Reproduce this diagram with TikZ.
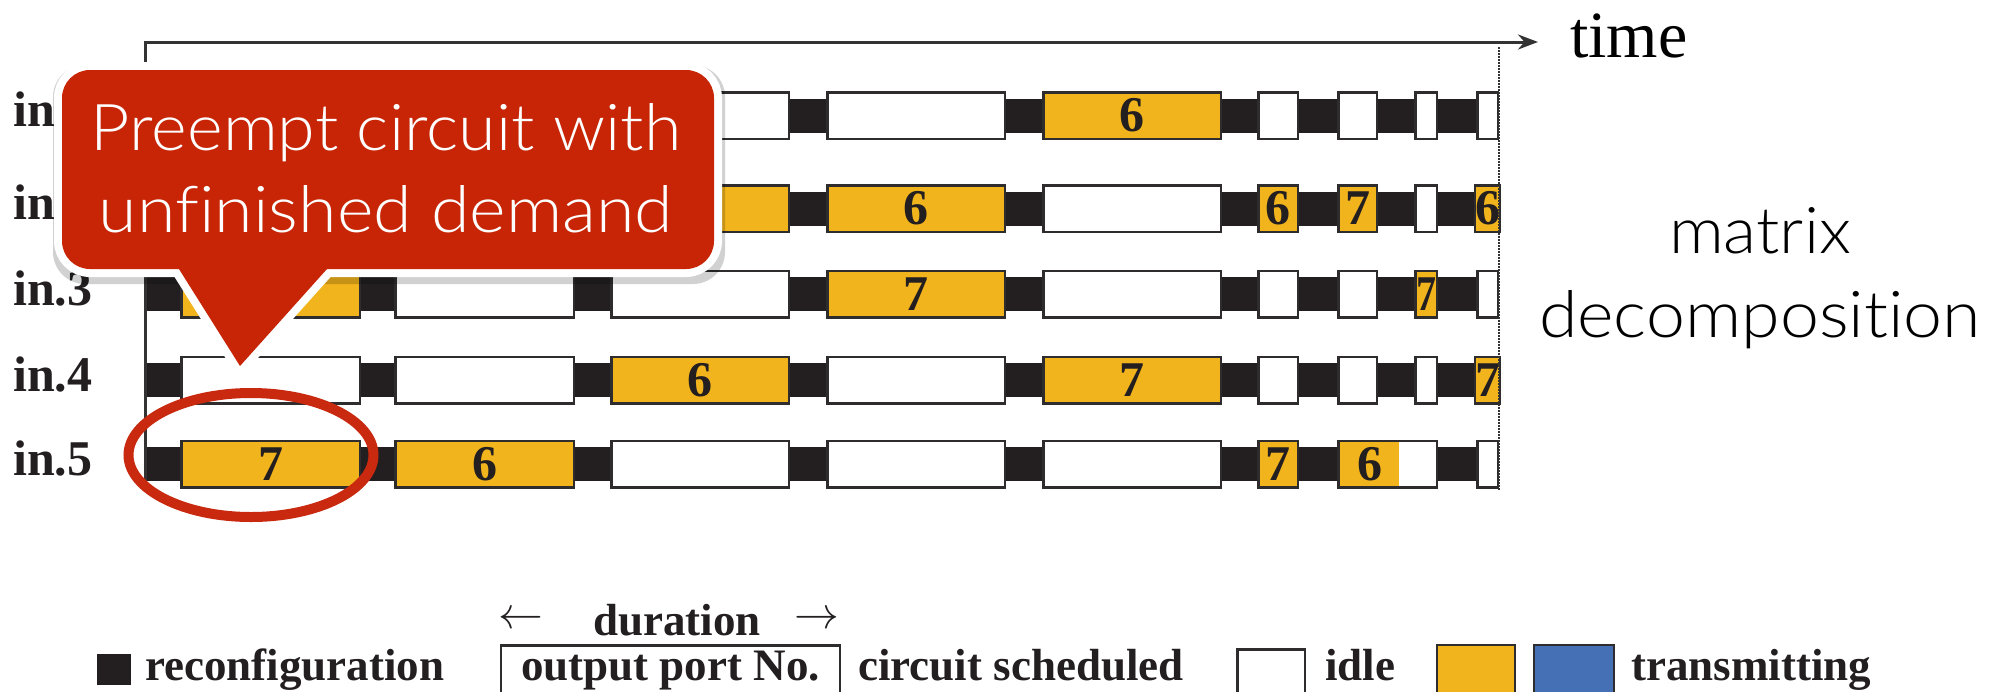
\documentclass[tikz,border=0pt]{standalone}
\usepackage{fontspec}
\setmainfont{Liberation Serif}
\newfontfamily\lightsf{Lato Light}[Ligatures=NoCommon]
\usetikzlibrary{arrows.meta,shapes.geometric}
\definecolor{boxorange}{HTML}{F2B41C}
\definecolor{barblack}{HTML}{231F20}
\definecolor{boxedge}{HTML}{2E2C2D}
\definecolor{callred}{HTML}{C72506}
\definecolor{ringred}{HTML}{C8290F}
\definecolor{keyblue}{HTML}{4670B5}
\definecolor{axisgrey}{HTML}{333333}
\newcommand\digitfont{\fontsize{50}{50}\selectfont\bfseries}
\newcommand\legfont{\fontsize{45}{45}\selectfont\bfseries}
\newcommand\slotnode[5]{\node[#1, minimum width=#3pt] (#2) at (#4,#5)}
\newcommand\fitwh[3]{\resizebox{#1pt}{#2pt}{#3}}
\begin{document}
\begin{tikzpicture}[x=1pt,y=-1pt,
  slot/.style={draw=boxedge, line width=2.5pt, minimum height=46.5pt, inner sep=0pt, font=\digitfont, text=barblack},
  idle/.style={slot, fill=white},
  busy/.style={slot, fill=boxorange},
  rowlabel/.style={anchor=base west, inner sep=0pt, font=\digitfont, text=barblack},
  legtext/.style={anchor=base west, inner sep=0pt, font=\legfont, text=barblack},
  lighttext/.style={anchor=base, inner sep=0pt, font={\lightsf\fontsize{66}{66}\selectfont}},
]
\useasboundingbox[fill=white] (0,0) rectangle (1999,691);
% bars
\foreach \y in {115.5,208.5,294,380,464} \fill[barblack] (145,\y-17) rectangle (1499,\y+17);
% row 1
\slotnode{idle}{r1b3}{177.5}{700}{115.5}{};
\slotnode{idle}{r1b4}{177.5}{916}{115.5}{};
\slotnode{busy}{r1b5}{177.5}{1132}{115.5}{6};
\slotnode{idle}{r1s1}{39.5}{1278}{115.5}{};
\slotnode{idle}{r1s2}{38.5}{1357.5}{115.5}{};
\slotnode{idle}{r1s3}{21.5}{1426}{115.5}{};
\slotnode{idle}{r1s4}{20.5}{1487.5}{115.5}{};
% row 2
\slotnode{busy}{r2b3}{177.5}{700}{208.5}{};
\slotnode{busy}{r2b4}{177.5}{916}{208.5}{6};
\slotnode{idle}{r2b5}{177.5}{1132}{208.5}{};
\slotnode{busy}{r2s1}{39.5}{1278}{208.5}{6};
\slotnode{busy}{r2s2}{38.5}{1357.5}{208.5}{7};
\slotnode{idle}{r2s3}{21.5}{1426}{208.5}{};
\slotnode{busy}{r2s4}{20.5}{1487.5}{208.5}{6};
% row 3
\slotnode{busy}{r3b1}{178.5}{270.5}{294}{};
\slotnode{idle}{r3b2}{178.5}{484.5}{294}{};
\slotnode{idle}{r3b3}{177.5}{700}{294}{};
\slotnode{busy}{r3b4}{177.5}{916}{294}{7};
\slotnode{idle}{r3b5}{177.5}{1132}{294}{};
\slotnode{idle}{r3s1}{39.5}{1278}{294}{};
\slotnode{idle}{r3s2}{38.5}{1357.5}{294}{};
\slotnode{busy}{r3s3}{21.5}{1426}{294}{\scalebox{0.8}[1]{7}};
\slotnode{idle}{r3s4}{20.5}{1487.5}{294}{};
% row 4
\slotnode{idle}{r4b1}{178.5}{270.5}{380}{};
\slotnode{idle}{r4b2}{178.5}{484.5}{380}{};
\slotnode{busy}{r4b3}{177.5}{700}{380}{6};
\slotnode{idle}{r4b4}{177.5}{916}{380}{};
\slotnode{busy}{r4b5}{177.5}{1132}{380}{7};
\slotnode{idle}{r4s1}{39.5}{1278}{380}{};
\slotnode{idle}{r4s2}{38.5}{1357.5}{380}{};
\slotnode{idle}{r4s3}{21.5}{1426}{380}{};
\slotnode{busy}{r4s4}{20.5}{1487.5}{380}{7};
% row 5
\slotnode{busy}{r5b1}{178.5}{270.5}{464}{7};
\slotnode{busy}{r5b2}{178.5}{484.5}{464}{6};
\slotnode{idle}{r5b3}{177.5}{700}{464}{};
\slotnode{idle}{r5b4}{177.5}{916}{464}{};
\slotnode{idle}{r5b5}{177.5}{1132}{464}{};
\slotnode{busy}{r5s1}{39.5}{1278}{464}{7};
\node[idle, minimum width=98.5pt,
  path picture={\fill[boxorange] (path picture bounding box.south west) rectangle ([xshift=-38pt]path picture bounding box.north east);},
  label={[font=\digitfont, text=barblack, inner sep=0pt, xshift=-17.5pt]center:6}] (r5s23) at (1387.5,464) {};
\slotnode{idle}{r5s4}{20.5}{1487.5}{464}{};
% axes
\coordinate (axbot) at (145,481);
\coordinate (axo) at (145,42);
\coordinate (axend) at (1538,42);
\draw[axisgrey, line width=3pt, -{Stealth[length=20pt,width=15pt]}] (axbot) -- (axo) -- (axend);
\coordinate (dtop) at (1499,47);
\coordinate (dbot) at (1499,490);
\draw[axisgrey, line width=1.5pt, dash pattern=on 1.5pt off 1.5pt] (dtop) -- (dbot);
% row labels
\node[rowlabel] (lab1) at (13,126.5) {in.1};
\node[rowlabel] (lab2) at (13,219.5) {in.2};
\node[rowlabel] (lab3) at (13,305) {in.3};
\node[rowlabel] (lab4) at (13,391) {in.4};
\node[rowlabel] (lab5) at (13,475) {in.5};
% time & matrix decomposition
\node[anchor=base west, inner sep=0pt, font=\fontsize{66}{66}\selectfont] (time) at (1570,57) {time};
\node[lighttext] (mat1) at (1760,253) {\fitwh{182}{46}{matrix}};
\node[lighttext] (mat2) at (1760,337) {\fitwh{442}{47}{decomposition}};
% ring
\node[draw=ringred, line width=10pt, ellipse, minimum width=245pt, minimum height=124pt, inner sep=0pt] (ring) at (251,455) {};
% callout
\begin{scope}[yshift=-5pt, xshift=1pt]
\path[fill=black, opacity=0.18, rounded corners=32pt] (52,60) rectangle (724,279);
\end{scope}
\path[draw=white, line width=16pt, rounded corners=28pt] (62,70) rectangle (714,269);
\path[draw=white, line width=16pt, line join=miter] (160.7,240) -- (240,366) -- (353,240) -- cycle;
\path[fill=callred, rounded corners=28pt] (62,70) rectangle (714,269);
\path[fill=callred] (160.7,240) -- (240,366) -- (353,240) -- cycle;
\node[lighttext, text=white] (call1) at (386,150) {\fitwh{590}{47}{Preempt circuit with}};
\node[lighttext, text=white] (call2) at (386,232) {\fitwh{574}{47}{unfinished demand}};
% legend
\node[fill=barblack, minimum width=34pt, minimum height=31pt, inner sep=0pt] (kreconf) at (114,669.5) {};
\node[legtext] (treconf) at (145,680) {reconfiguration};
\node[legtext] (dleft) at (498,628) {\scalebox{1.8}{$\leftarrow$}};
\node[legtext] (tdur) at (593,635) {duration};
\node[legtext] (dright) at (794,628) {\scalebox{1.8}{$\rightarrow$}};
\node[draw=boxedge, line width=2.5pt, minimum width=339pt, inner xsep=0pt, inner ysep=5pt, anchor=base, font=\legfont, text=barblack] (kport) at (670.5,680) {output port No.};
\node[legtext] (tsched) at (858,680) {circuit scheduled};
\node[draw=boxedge, fill=white, line width=2.5pt, minimum width=67.5pt, minimum height=48pt, inner sep=0pt, anchor=north] (kidle) at (1271,648.25) {};
\node[legtext] (tidle) at (1325,680) {idle};
\node[draw=boxedge, fill=boxorange, line width=2pt, minimum width=78pt, minimum height=52pt, inner sep=0pt, anchor=north] (korange) at (1476,644) {};
\node[draw=boxedge, fill=keyblue, line width=2pt, minimum width=80pt, minimum height=52pt, inner sep=0pt, anchor=north] (kblue) at (1574,644) {};
\node[legtext] (ttrans) at (1631,680) {transmitting};
\end{tikzpicture}
\end{document}
